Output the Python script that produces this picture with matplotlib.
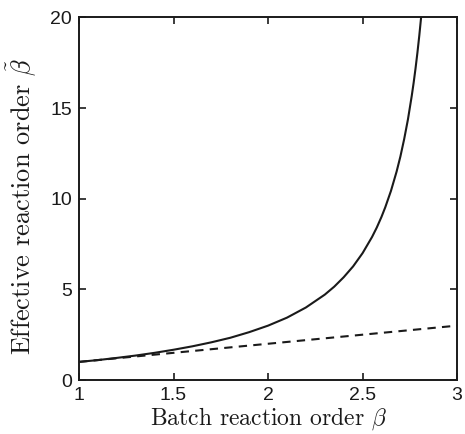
import matplotlib
matplotlib.use("Agg")
import matplotlib.pyplot as plt

# values
beta = [1.0, 1.1, 1.2, 1.3, 1.4, 1.5, 1.6, 1.7, 1.8, 1.9, 2.0, 2.1, 2.2, 2.3,
        2.35, 2.4, 2.45, 2.5, 2.55, 2.575, 2.6, 2.62, 2.65, 2.68, 2.7, 2.72,
        2.74, 2.76, 2.77, 2.78, 2.79, 2.8, 2.81, 2.82]
beta_eff = [1.00, 1.10, 1.22, 1.35, 1.50, 1.67, 1.86, 2.08, 2.33, 2.64, 3.00,
            3.44, 4.00, 4.71, 5.15, 5.67, 6.27, 7.00, 7.89, 8.41, 9.00, 9.53,
            10.43, 11.50, 12.33, 13.29, 14.38, 15.67, 16.39, 17.18, 18.05,
            19.00, 20.05, 21.2]
ref_x = [1.0, 3.0]
ref_y = [1.0, 3.0]

plt.rcParams["mathtext.fontset"] = "cm"
plt.rcParams["axes.unicode_minus"] = False

fig = plt.figure(figsize=(4.65, 4.34), dpi=100)
ax = fig.add_axes([0.170, 0.1244, 0.813, 0.8353])

ax.plot(beta, beta_eff, color="#1a1a1a", linewidth=1.5)
ax.plot(ref_x, ref_y, color="#1a1a1a", linewidth=1.5, linestyle=(0, (4, 3)))

ax.set_xlim(1, 3)
ax.set_ylim(0, 20)
ax.set_xticks([1, 1.5, 2, 2.5, 3])
ax.set_xticklabels(["1", "1.5", "2", "2.5", "3"])
ax.set_yticks([0, 5, 10, 15, 20])

for s in ax.spines.values():
    s.set_linewidth(1.4)
    s.set_color("#1a1a1a")

ax.tick_params(direction="in", top=True, right=True, length=4.8, width=1.2,
               labelsize=14, pad=5, colors="#1a1a1a")
for lab in ax.get_xticklabels() + ax.get_yticklabels():
    lab.set_family("Liberation Sans")

ax.set_xlabel(r"Batch reaction order $\beta$", family="cmr10", fontsize=17,
              labelpad=1, color="#1a1a1a")
ax.set_ylabel(r"Effective reaction order $\tilde{\beta}$", family="cmr10",
              fontsize=19, color="#1a1a1a")
ax.yaxis.set_label_coords(-0.105, 0.478)

fig.savefig("out.png", dpi=100)
